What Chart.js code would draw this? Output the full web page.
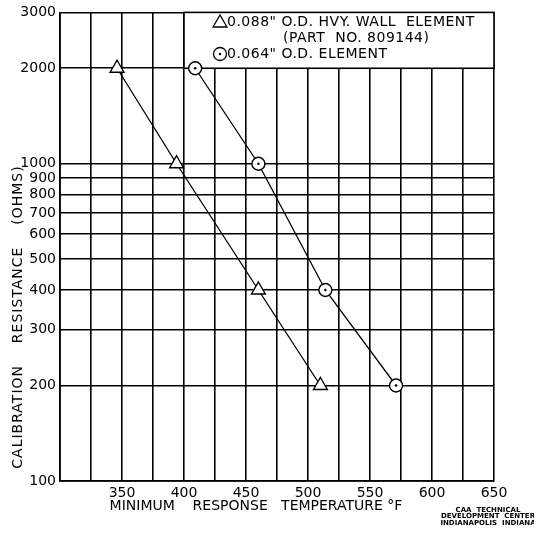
<!DOCTYPE html>
<html>
<head>
<meta charset="utf-8">
<script src="https://cdn.jsdelivr.net/npm/chart.js@4/dist/chart.umd.min.js"></script>
<style>
html, body { margin: 0; padding: 0; background: #fff; }
</style>
</head>
<body>
<canvas id="myChart" width="534" height="534"></canvas>
<script>
const FONT = "'DejaVu Sans', sans-serif";

// values
var heavyTemps = [346, 394, 460, 510];
var heavyOhms = [2000, 1000, 400, 200];
var thinTemps = [409, 460, 514, 571];
var thinOhms = [2000, 1000, 400, 200];

var ohmTicks = [100, 200, 300, 400, 500, 600, 700, 800, 900, 1000, 2000, 3000];
var tempLabels = [350, 400, 450, 500, 550, 600, 650];

var legendLines = ['0.088" O.D. HVY. WALL  ELEMENT', '(PART  NO. 809144)', '0.064" O.D. ELEMENT'];
var xTitle = 'MINIMUM    RESPONSE   TEMPERATURE °F';
var yTitle = 'CALIBRATION    RESISTANCE    (OHMS)';
var footer = ['CAA  TECHNICAL', 'DEVELOPMENT  CENTER', 'INDIANAPOLIS  INDIANA'];

function pts(xs, ys) {
    return xs.map((x, i) => ({x: x, y: ys[i]}));
}

function tri(ctx, x, y, r) {
    ctx.beginPath();
    ctx.moveTo(x, y - r);
    ctx.lineTo(x + r * 0.87, y + r * 0.5);
    ctx.lineTo(x - r * 0.87, y + r * 0.5);
    ctx.closePath();
    ctx.stroke();
}

const boxPlugin = {
    id: 'legendBox',
    beforeDatasetsDraw(chart) {
        const ctx = chart.ctx;
        const xs = chart.scales.x, ys = chart.scales.y;
        const a = chart.chartArea;
        const x0 = xs.getPixelForValue(400), y1 = ys.getPixelForValue(2000);
        ctx.save();
        ctx.fillStyle = '#fff';
        ctx.fillRect(x0, a.top, a.right - x0, y1 - a.top);
        ctx.strokeStyle = '#000';
        ctx.lineWidth = 1.6;
        ctx.strokeRect(x0, a.top, a.right - x0, y1 - a.top);
        ctx.fillStyle = '#000';
        ctx.font = '14px ' + FONT;
        ctx.letterSpacing = '0.5px';
        ctx.textBaseline = 'middle';
        ctx.fillText(legendLines[0], 227, 22);
        ctx.fillText(legendLines[1], 283, 38);
        ctx.fillText(legendLines[2], 227, 54);
        ctx.lineWidth = 1.3;
        tri(ctx, 220, 23, 8);
        ctx.beginPath();
        ctx.arc(220, 54, 6.5, 0, Math.PI * 2);
        ctx.stroke();
        ctx.beginPath();
        ctx.arc(220, 54, 1.2, 0, Math.PI * 2);
        ctx.fill();
        ctx.restore();
    },
    afterDraw(chart) {
        const ctx = chart.ctx;
        ctx.save();
        ctx.fillStyle = '#000';
        ctx.textAlign = 'center';
        ctx.textBaseline = 'middle';
        ctx.font = '14px ' + FONT;
        ctx.fillText(xTitle, 256, 506);
        ctx.save();
        ctx.translate(18, 317);
        ctx.rotate(-Math.PI / 2);
        ctx.letterSpacing = '1px';
        ctx.fillText(yTitle, 0, 0);
        ctx.restore();
        ctx.font = 'bold 7px ' + FONT;
        footer.forEach((t, i) => ctx.fillText(t, 488, 510 + i * 6.5));
        ctx.restore();
    }
};

const gConfig = {
    type: 'scatter',
    data: {
        datasets: [{
            data: pts(thinTemps, thinOhms),
            pointStyle: 'circle',
            pointRadius: 1.3,
            pointBackgroundColor: '#000',
            pointBorderWidth: 0,
            showLine: false,
            order: 0
        }, {
            data: pts(heavyTemps, heavyOhms),
            showLine: true,
            borderColor: '#000',
            borderWidth: 1.3,
            pointStyle: 'triangle',
            pointRadius: 8,
            pointBackgroundColor: '#fff',
            pointBorderColor: '#000',
            pointBorderWidth: 1.4,
            order: 1
        }, {
            data: pts(thinTemps, thinOhms),
            showLine: true,
            borderColor: '#000',
            borderWidth: 1.3,
            pointStyle: 'circle',
            pointRadius: 6.5,
            pointBackgroundColor: '#fff',
            pointBorderColor: '#000',
            pointBorderWidth: 1.4,
            order: 1
        }]
    },
    options: {
        responsive: false,
        animation: false,
        layout: {padding: {top: 9, right: 40, left: 0, bottom: 0}},
        plugins: {legend: {display: false}, tooltip: {enabled: false}},
        scales: {
            x: {
                type: 'linear',
                min: 300,
                max: 650,
                afterFit: (s) => { s.height = 53; },
                border: {color: '#000', width: 1.8},
                grid: {color: '#000', lineWidth: 1.6, drawTicks: false},
                ticks: {
                    stepSize: 25,
                    autoSkip: false,
                    maxRotation: 0,
                    padding: 4,
                    color: '#000',
                    font: {family: FONT, size: 14},
                    callback: (v) => tempLabels.includes(v) ? String(v) : ''
                }
            },
            y: {
                type: 'logarithmic',
                min: 100,
                max: 3000,
                afterFit: (s) => { s.width = 60; },
                afterBuildTicks: (s) => { s.ticks = ohmTicks.map((v) => ({value: v})); },
                border: {color: '#000', width: 1.8},
                grid: {color: '#000', lineWidth: 1.6, drawTicks: false},
                ticks: {
                    autoSkip: false,
                    padding: 4,
                    color: '#000',
                    font: {family: FONT, size: 14},
                    callback: (v) => String(v)
                }
            }
        }
    },
    plugins: [boxPlugin]
};

const gChart = new Chart(document.getElementById('myChart'), gConfig);
</script>
</body>
</html>
